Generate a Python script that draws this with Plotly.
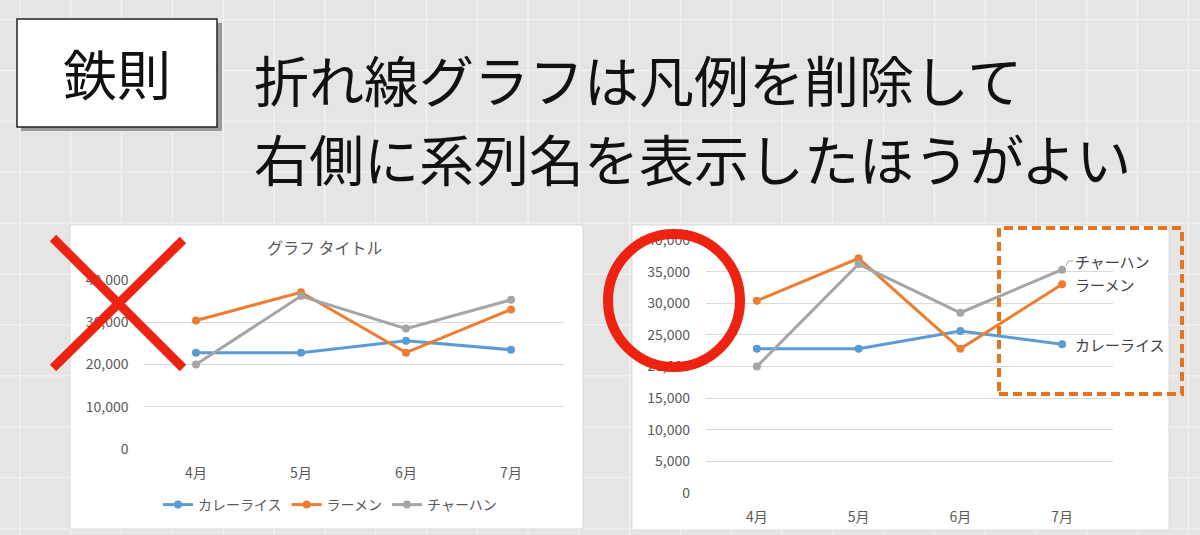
import plotly.graph_objects as go

# ---------------- data ----------------
months = ["4月", "5月", "6月", "7月"]
curry = [22800, 22800, 25600, 23500]
ramen = [30400, 37100, 22800, 33000]
chahan = [20000, 36200, 28500, 35300]
series_names = ["カレーライス", "ラーメン", "チャーハン"]
series_colors = ["#5B9BD5", "#ED7D31", "#A5A5A5"]
left_ticks = [0, 10000, 20000, 30000, 40000]
right_ticks = [0, 5000, 10000, 15000, 20000, 25000, 30000, 35000, 40000]
badge_text = "鉄則"
heading_lines = ["折れ線グラフは凡例を削除して", "右側に系列名を表示したほうがよい"]
left_title = "グラフ タイトル"

W, H = 1200, 535
FONT = "Noto Sans CJK JP, Noto Sans, sans-serif"


def px(x):
    return x / W


def py(y):
    return 1 - y / H


all_series = [curry, ramen, chahan]

fig = go.Figure()

# left chart (with legend)
for name, vals, col in zip(series_names, all_series, series_colors):
    fig.add_trace(go.Scatter(
        x=months, y=vals, name=name, mode="lines+markers",
        line=dict(color=col, width=3), marker=dict(color=col, size=8),
        xaxis="x", yaxis="y", showlegend=True, hoverinfo="skip"))

# right chart (labels at end)
for name, vals, col in zip(series_names, all_series, series_colors):
    fig.add_trace(go.Scatter(
        x=months, y=vals, name=name, mode="lines+markers",
        line=dict(color=col, width=3), marker=dict(color=col, size=8),
        xaxis="x2", yaxis="y2", showlegend=False, hoverinfo="skip"))

shapes = []
# background slide grid
k = 0
while 20 + 50.8 * k < W:
    x = 20 + 50.8 * k
    shapes.append(dict(type="line", xref="paper", yref="paper", x0=px(x), x1=px(x), y0=0, y1=1,
                       line=dict(color="#f1f1f1", width=1.5), layer="below"))
    k += 1
k = 0
while 19.5 + 50.9 * k < H:
    y = 19.5 + 50.9 * k
    shapes.append(dict(type="line", xref="paper", yref="paper", x0=0, x1=1, y0=py(y), y1=py(y),
                       line=dict(color="#f1f1f1", width=1.5), layer="below"))
    k += 1

# chart panels
shapes.append(dict(type="rect", xref="paper", yref="paper", x0=px(70), x1=px(583), y0=py(529), y1=py(225),
                   fillcolor="white", line=dict(color="#d9d9d9", width=1), layer="below"))
shapes.append(dict(type="rect", xref="paper", yref="paper", x0=px(632), x1=px(1169), y0=py(530), y1=py(225),
                   fillcolor="white", line=dict(color="#d9d9d9", width=1), layer="below"))

# badge box with shadow
shapes.append(dict(type="rect", xref="paper", yref="paper", x0=px(21), x1=px(222), y0=py(131), y1=py(23),
                   fillcolor="#9a9a9a", line=dict(width=0), layer="below"))
shapes.append(dict(type="rect", xref="paper", yref="paper", x0=px(17), x1=px(217), y0=py(127), y1=py(19),
                   fillcolor="white", line=dict(color="#222222", width=1.5), layer="below"))

# red X
shapes.append(dict(type="line", xref="paper", yref="paper", x0=px(53), y0=py(238), x1=px(183), y1=py(368),
                   line=dict(color="#EE2211", width=9)))
shapes.append(dict(type="line", xref="paper", yref="paper", x0=px(183), y0=py(240), x1=px(53), y1=py(368),
                   line=dict(color="#EE2211", width=9)))

# red circle
shapes.append(dict(type="circle", xref="paper", yref="paper", x0=px(608), x1=px(740), y0=py(367), y1=py(234),
                   line=dict(color="#EE2211", width=10)))

# orange dashed box
shapes.append(dict(type="rect", xref="paper", yref="paper", x0=px(999), x1=px(1182), y0=py(394), y1=py(228),
                   line=dict(color="#E8731F", width=4, dash="9px,5px")))

# leader line for the top label
shapes.append(dict(type="path", xref="paper", yref="paper",
                   path=f"M {px(1066)},{py(266)} L {px(1068)},{py(261)} L {px(1073)},{py(261)}",
                   line=dict(color="#A5A5A5", width=1)))

annotations = [
    dict(text=badge_text, xref="paper", yref="paper", x=px(117), y=py(73), showarrow=False,
         xanchor="center", yanchor="middle", font=dict(size=54, color="#111111", family=FONT)),
    dict(text=heading_lines[0], xref="paper", yref="paper", x=px(252), y=py(78), showarrow=False,
         xanchor="left", yanchor="middle", font=dict(size=55, color="#111111", family=FONT)),
    dict(text=heading_lines[1], xref="paper", yref="paper", x=px(252), y=py(157), showarrow=False,
         xanchor="left", yanchor="middle", font=dict(size=55, color="#111111", family=FONT)),
    dict(text=left_title, xref="paper", yref="paper", x=px(325), y=py(247), showarrow=False,
         xanchor="center", yanchor="middle", font=dict(size=16, color="#595959", family=FONT)),
]
label_shift = [0, 0, 8]
for name, vals, sh in zip(series_names, all_series, label_shift):
    annotations.append(dict(text=name, xref="x2", yref="y2", x=months[-1], y=vals[-1], showarrow=False,
                            xanchor="left", yanchor="middle", xshift=11, yshift=sh,
                            font=dict(size=15, color="#404040", family=FONT)))

axis_common = dict(showline=False, zeroline=False, ticks="", automargin=False,
                   tickfont=dict(size=14, color="#595959", family=FONT))

fig.update_layout(
    width=W, height=H, autosize=False,
    margin=dict(l=0, r=0, t=0, b=0, pad=0, autoexpand=False),
    paper_bgcolor="#e5e5e5", plot_bgcolor="rgba(0,0,0,0)",
    font=dict(family=FONT),
    xaxis=dict(domain=[px(143.5), px(563.5)], range=[-0.5, 3.5], type="category", showgrid=False,
               anchor="y", ticklabelstandoff=14, **axis_common),
    yaxis=dict(domain=[py(449), py(280)], range=[0, 40000], tickvals=left_ticks, tickformat=",",
               showgrid=True, gridcolor="#d9d9d9", gridwidth=1, anchor="x", ticklabelstandoff=14, **axis_common),
    xaxis2=dict(domain=[px(706), px(1113)], range=[-0.5, 3.5], type="category", showgrid=False,
                anchor="y2", ticklabelstandoff=14, **axis_common),
    yaxis2=dict(domain=[py(493), py(240)], range=[0, 40000], tickvals=right_ticks, tickformat=",",
                showgrid=True, gridcolor="#d9d9d9", gridwidth=1, anchor="x2", ticklabelstandoff=15, **axis_common),
    legend=dict(orientation="h", x=px(330), xanchor="center", y=py(505), yanchor="middle",
                bgcolor="rgba(0,0,0,0)", font=dict(size=14, color="#595959", family=FONT),
                itemwidth=30, tracegroupgap=0),
    shapes=shapes,
    annotations=annotations,
)

fig.write_html(
    "out.html",
    config={"displayModeBar": False},
    post_script="document.body.style.margin='0';document.body.style.background='#e5e5e5';",
)
